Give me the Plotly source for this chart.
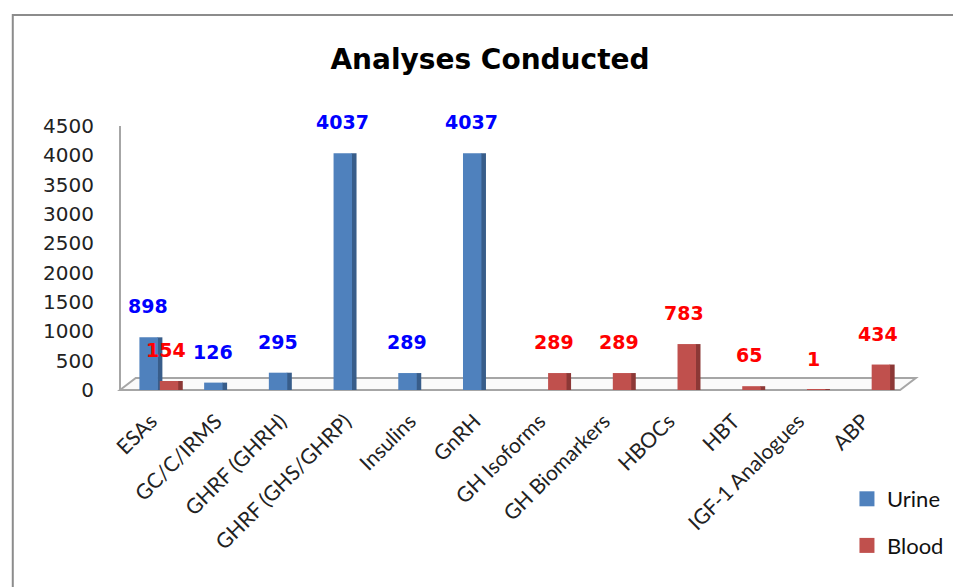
import plotly.graph_objects as go

categories = ["ESAs", "GC/C/IRMS", "GHRF (GHRH)", "GHRF (GHS/GHRP)", "Insulins", "GnRH",
              "GH Isoforms", "GH Biomarkers", "HBOCs", "HBT", "IGF-1 Analogues", "ABP"]
urine = [898, 126, 295, 4037, 289, 4037, None, None, None, None, None, None]
blood = [154, None, None, None, None, None, 289, 289, 783, 65, 1, 434]
y_ticks = [0, 500, 1000, 1500, 2000, 2500, 3000, 3500, 4000, 4500]

URINE_FRONT, URINE_SIDE = "#4F81BD", "#385D8A"
BLOOD_FRONT, BLOOD_SIDE = "#C0504D", "#8C3836"

fig = go.Figure()

# side faces (pseudo-3D)
fig.add_trace(go.Bar(x=categories, y=urine, offset=-0.045, width=0.08,
                     marker=dict(color=URINE_SIDE, line=dict(width=0)),
                     showlegend=False, hoverinfo="skip"))
fig.add_trace(go.Bar(x=categories, y=blood, offset=0.27, width=0.08,
                     marker=dict(color=BLOOD_SIDE, line=dict(width=0)),
                     showlegend=False, hoverinfo="skip"))
# front faces
fig.add_trace(go.Bar(x=categories, y=urine, name="Urine", offset=-0.32, width=0.285,
                     marker=dict(color=URINE_FRONT, line=dict(width=0)),
                     showlegend=False))
fig.add_trace(go.Bar(x=categories, y=blood, name="Blood", offset=-0.005, width=0.285,
                     marker=dict(color=BLOOD_FRONT, line=dict(width=0)),
                     showlegend=False))
# legend entries (larger square swatches)
fig.add_trace(go.Scatter(x=[None], y=[None], mode="markers", name="Urine",
                         marker=dict(symbol="square", size=15, color=URINE_FRONT),
                         legendgroup="u"))
fig.add_trace(go.Scatter(x=[None], y=[None], mode="markers", name="Blood",
                         marker=dict(symbol="square", size=15, color=BLOOD_FRONT),
                         legendgroup="b"))

# data labels, placed above the bar tops
annotations = []
for cat, v in zip(categories, urine):
    if v is not None:
        annotations.append(dict(x=cat, y=v, text=f"<b>{v}</b>", showarrow=False,
                                xshift=-12, yshift=31, yanchor="middle",
                                font=dict(family="DejaVu Sans", size=19, color="#0000FF")))
for cat, v in zip(categories, blood):
    if v is not None:
        annotations.append(dict(x=cat, y=v, text=f"<b>{v}</b>", showarrow=False,
                                xshift=6, yshift=31, yanchor="middle",
                                font=dict(family="DejaVu Sans", size=19, color="#FF0000")))

# page body adds an 8px margin: work in reference pixel coordinates shifted by OFF
OFF = 8
W, H = 961 - OFF, 587 - OFF
L = 120 - OFF
T = 126 - OFF
R = W - (918 - OFF)
B = H - (390 - OFF)
pw, ph = W - L - R, H - T - B

def px(xp):
    return (xp - OFF - L) / pw

def py(yp):
    return (H - B - (yp - OFF)) / ph

shapes = [
    # outer chart border
    dict(type="rect", xref="paper", yref="paper",
         x0=px(11), x1=px(990), y0=py(620), y1=py(15),
         line=dict(color="#8C8C8C", width=2), fillcolor="rgba(0,0,0,0)", layer="below"),
    # floor
    dict(type="path", xref="paper", yref="paper",
         path=f"M {px(120)} {py(390)} L {px(136)} {py(378)} L {px(929)} {py(378)} L {px(913)} {py(390)} Z",
         line=dict(color="#A6A6A6", width=2), fillcolor="#FAFAFA", layer="below"),
    # vertical wall line
    dict(type="line", xref="paper", yref="paper",
         x0=px(120), x1=px(120), y0=py(390), y1=py(126),
         line=dict(color="#A6A6A6", width=2), layer="below"),
]

fig.update_layout(
    width=W, height=H,
    margin=dict(l=L, r=R, t=T, b=B, pad=0),
    paper_bgcolor="white", plot_bgcolor="white",
    barmode="overlay",
    title=dict(text="<b>Analyses Conducted</b>", x=(490 - OFF) / W, xanchor="center",
               y=1 - (59 - OFF) / H, yanchor="middle",
               font=dict(family="DejaVu Sans", size=28, color="#000000")),
    xaxis=dict(range=[-0.62, 11.51], showline=False, showgrid=False, zeroline=False,
               tickangle=-45, ticks="", ticklabelstandoff=14, ticklabelshift=-9,
               tickfont=dict(family="Lato", size=21, color="#222222")),
    yaxis=dict(range=[0, 4500], tickvals=y_ticks, showgrid=False, zeroline=False,
               showline=False, ticks="", ticklabelstandoff=25,
               tickfont=dict(family="DejaVu Sans", size=20, color="#222222")),
    legend=dict(x=px(859), y=py(478), xanchor="left", yanchor="top",
                traceorder="grouped", tracegroupgap=15,
                font=dict(family="Lato", size=22, color="#111111"),
                bgcolor="rgba(0,0,0,0)", itemwidth=30),
    annotations=annotations,
    shapes=shapes,
    showlegend=True,
)

fig.write_html("out.html")
